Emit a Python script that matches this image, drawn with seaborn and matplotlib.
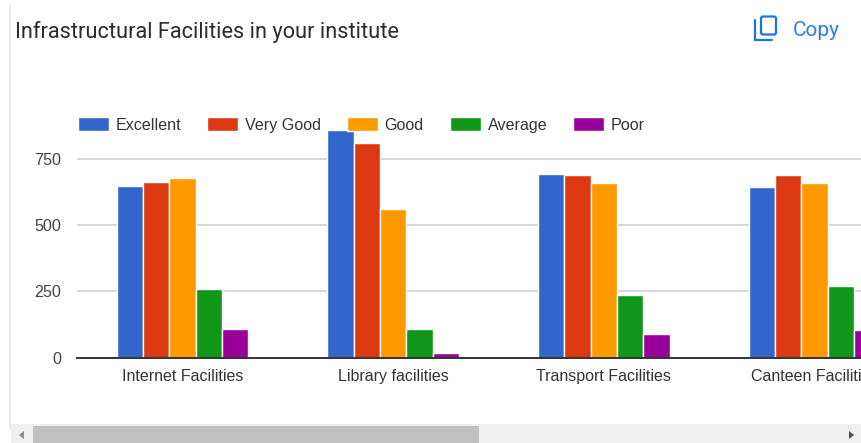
import pandas as pd
import seaborn as sns
import matplotlib.pyplot as plt
from matplotlib.patches import FancyBboxPatch, Polygon, Rectangle

facilities = ['Internet Facilities', 'Library facilities', 'Transport Facilities', 'Canteen Facilities']
ratings = ['Excellent', 'Very Good', 'Good', 'Average', 'Poor']
excellent = [647, 858, 693, 644]
very_good = [663, 810, 689, 689]
good = [678, 561, 659, 659]
average = [257, 108, 237, 271]
poor = [108, 18, 90, 105]
colors = ['#3366cc', '#dc3912', '#ff9900', '#109618', '#990099']

df = pd.DataFrame({'facility': facilities, 'Excellent': excellent, 'Very Good': very_good,
                   'Good': good, 'Average': average, 'Poor': poor})
df = df.melt(id_vars='facility', var_name='rating', value_name='count')

sns.set_style('white')
plt.rcParams['font.family'] = ['Liberation Sans', 'DejaVu Sans']

W, H = 862, 443
fig = plt.figure(figsize=(W / 100, H / 100), dpi=100)

# page furniture, in pixel coordinates
bg = fig.add_axes([0, 0, 1, 1])
bg.set_xlim(0, W)
bg.set_ylim(H, 0)
bg.axis('off')
bg.plot([10.5, 10.5], [5, 430], color='#e6e6e6', lw=1.1)
bg.add_patch(Rectangle((11, 424), W - 11, 19, color='#efefef', lw=0))
bg.add_patch(Rectangle((33, 426), 446, 17, color='#c0c0c0', lw=0))
bg.add_patch(Polygon([[24, 431], [24, 439], [19, 435]], color='#8a8a8a', lw=0))
bg.add_patch(Polygon([[849, 431], [849, 439], [854, 435]], color='#505050', lw=0))
bg.text(15.5, 32, 'Infrastructural Facilities in your institute', fontsize=15.7,
        family=['Roboto', 'DejaVu Sans'], color='#2a2c2f', va='center', ha='left')
bg.text(793, 30, 'Copy', fontsize=15, family=['Roboto', 'DejaVu Sans'],
        color='#2a7de8', va='center', ha='left')
bg.add_patch(FancyBboxPatch((761, 16.5), 15, 18, boxstyle='round,pad=0,rounding_size=2',
                            fill=False, ec='#1a73e8', lw=1.6))
bg.plot([755, 755, 772], [20, 40, 40], color='#1a73e8', lw=1.6, solid_capstyle='round')

# plot area: zero at y=357.6, 750 at y=158.6
x_left, y_zero, y_top = 77, 357.6, 100
ax = fig.add_axes([x_left / W, 1 - y_zero / H, 1 - x_left / W, (y_zero - y_top) / H])
ax.patch.set_alpha(0)
sns.barplot(data=df, x='facility', y='count', hue='rating', order=facilities, hue_order=ratings,
            palette=colors, width=0.625, saturation=1, errorbar=None, ax=ax, zorder=3)
ax.set_xlim(-0.5, (W - x_left) / 210.7 - 0.5)
ax.set_ylim(0, (y_zero - y_top) * 750 / 199)
ax.set_yticks([0, 250, 500, 750])
ax.set_xlabel('')
ax.set_ylabel('')
ax.grid(axis='y', color='#cccccc', lw=1.1)
ax.set_axisbelow(True)
sns.despine(ax=ax, left=True, top=True, right=True)
ax.spines['bottom'].set_color('#333333')
ax.spines['bottom'].set_linewidth(1.4)
ax.spines['bottom'].set_zorder(5)
ax.tick_params(axis='y', length=0, pad=11.5, labelsize=11.6, labelcolor='#444444')
ax.tick_params(axis='x', length=0, pad=8.5, labelsize=11.5, labelcolor='#333333')

handles = ax.get_legend_handles_labels()[0]
leg = ax.legend(handles, ratings, ncols=5, frameon=False, fontsize=11.6, loc='upper left',
                bbox_to_anchor=(77.5 / W, 1 - 117 / H), bbox_transform=fig.transFigure,
                borderpad=0, borderaxespad=0, handlelength=1.93, handleheight=1.0,
                handletextpad=0.43, columnspacing=1.6, labelcolor='#333333')
leg.set_zorder(10)

fig.savefig('out.png', dpi=100)
